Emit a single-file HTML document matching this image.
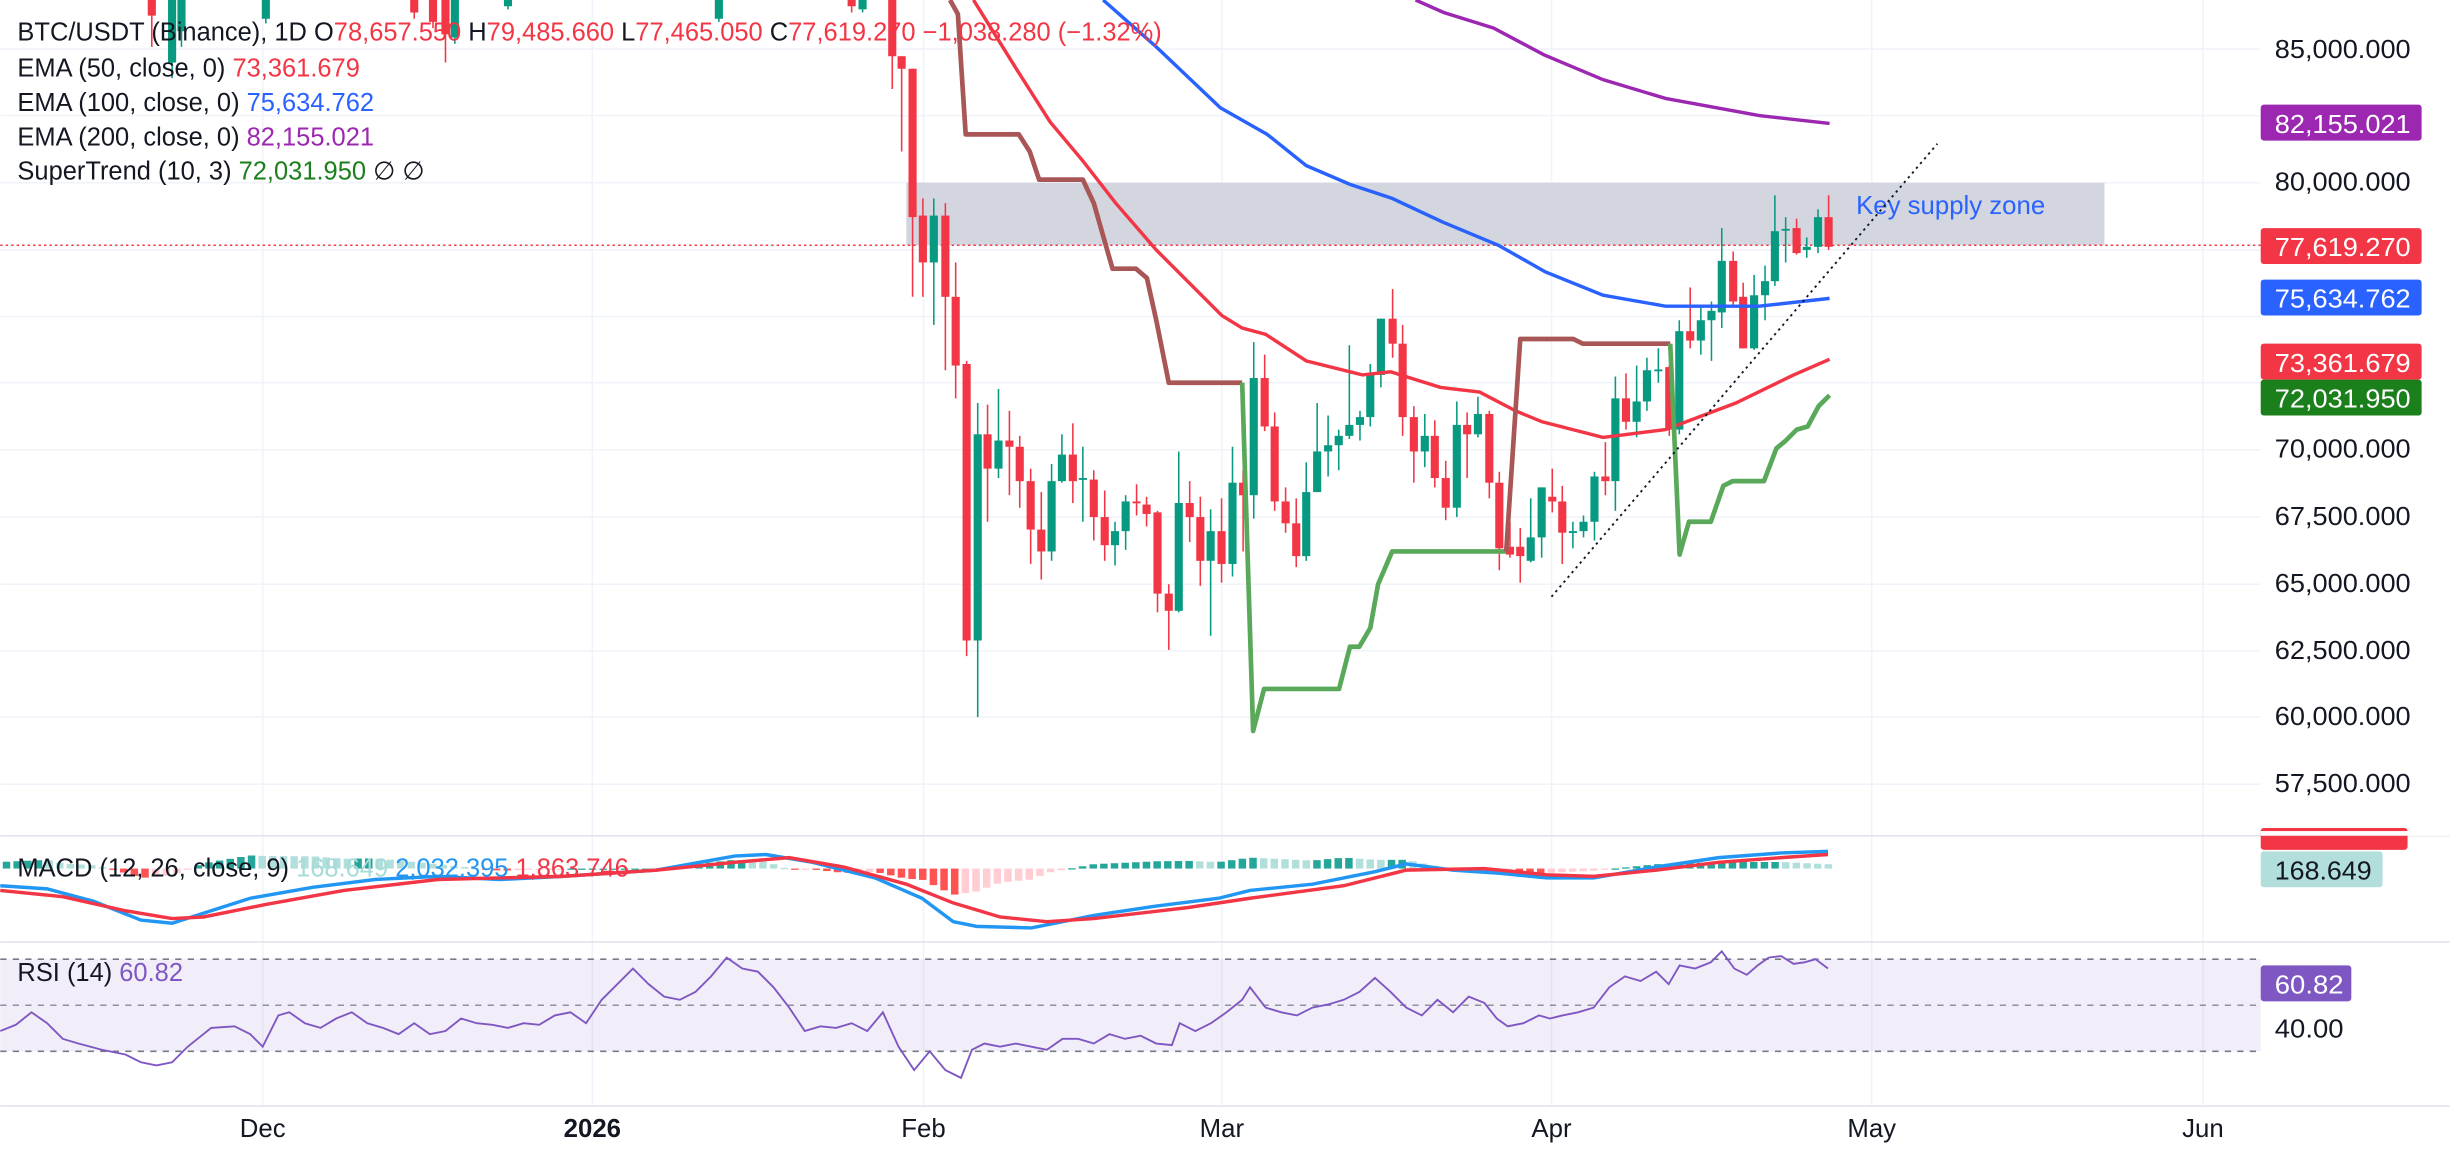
<!DOCTYPE html>
<html><head><meta charset="utf-8">
<style>
html,body{margin:0;padding:0;background:#fff;}
svg{display:block;}
text{font-family:"Liberation Sans",sans-serif;}
</style></head>
<body>
<svg id="s" width="2450" height="1156" viewBox="0 0 1568 740" xmlns="http://www.w3.org/2000/svg">
<rect width="1568" height="740" fill="#fff"/>
<g id="grid" stroke="#f0f3fa" stroke-width="1"></g>
<rect x="580" y="117" width="767" height="40" fill="#d1d4dc" opacity="0.95"/>
<text x="1188" y="137" font-size="16.5" fill="#2962ff">Key supply zone</text>
<line x1="0" y1="157" x2="1447" y2="157" stroke="#f23645" stroke-width="1" stroke-dasharray="1.5,2"/>
<g id="candles"></g>
<polyline fill="none" stroke="#9c27b0" stroke-width="2.2" points="906,0 924,8 956,18 988,35 1026,51 1066,63 1126,74 1171,79"/>
<polyline fill="none" stroke="#2962ff" stroke-width="2.2" points="706,0 740,30 781,69 811,86 836,106 864,118 891,127 923,142 959,157 989,174 1026,189 1066,196 1126,196 1171,191"/>
<polyline fill="none" stroke="#f23645" stroke-width="2.2" points="623,0 651,45 672,78 693,103 714,130 740,160 782,202 795,210 810,214 836,231 872,240 890,238 922,248 947,251 970,263 987,270 1026,280 1066,275 1111,258 1148,240 1171,230"/>
<polyline fill="none" stroke="#a85656" stroke-width="3" stroke-linejoin="round" points="608,0 613,9 618,86 652,86 659,97 665,115 693,115 700,130 712,172 727,172 734,178 740,205 748,245 795,245"/>
<polyline fill="none" stroke="#5aa85a" stroke-width="3" stroke-linejoin="round" points="795,245 802,468 809,441 857,441 864,414 870,414 877,402 882,374 891,353 964,353"/>
<polyline fill="none" stroke="#a85656" stroke-width="3" stroke-linejoin="round" points="964,353 973,217 1007,217 1013,220 1069,220"/>
<polyline fill="none" stroke="#5aa85a" stroke-width="3" stroke-linejoin="round" points="1069,220 1075,355 1081,334 1095,334 1103,311 1109,308 1129,308 1137,287 1143,282 1150,275 1157,273 1164,260 1171,253"/>
<line x1="993" y1="382" x2="1240" y2="92" stroke="#131722" stroke-width="1.2" stroke-dasharray="1.5,2.5"/>
<line x1="0" y1="535" x2="1568" y2="535" stroke="#e0e3eb"/>
<line x1="0" y1="603" x2="1568" y2="603" stroke="#e0e3eb"/>
<line x1="0" y1="708" x2="1568" y2="708" stroke="#e0e3eb"/>
<g id="hist"></g>
<polyline id="macd" fill="none" stroke="#2196f3" stroke-width="2.2"/>
<polyline id="sig" fill="none" stroke="#f23645" stroke-width="2.2"/>
<rect x="0" y="614" width="1447" height="59" fill="#7e57c2" opacity="0.1"/>
<line x1="0" y1="614" x2="1447" y2="614" stroke="#787b86" stroke-dasharray="4,4"/>
<line x1="0" y1="643.5" x2="1447" y2="643.5" stroke="#787b86" stroke-dasharray="4,4" opacity="0.8"/>
<line x1="0" y1="673" x2="1447" y2="673" stroke="#787b86" stroke-dasharray="4,4"/>
<polyline fill="none" stroke="#7e57c2" stroke-width="1.2" points="0,660 10,656 20,648 30,655 40,665 50,668 65,672 80,675 90,680 100,682 110,680 120,670 135,658 150,657 160,662 168,670 178,650 185,648 195,655 205,658 215,652 225,648 235,655 245,658 255,662 265,655 275,662 285,660 295,652 305,655 315,656 325,658 335,655 345,656 355,650 365,648 375,655 385,640 395,630 405,620 415,630 425,638 435,640 445,635 455,625 465,613 475,620 485,622 495,632 505,645 515,660 525,657 535,658 545,655 555,660 565,648 575,670 585,685 595,673 605,685 615,690 622,672 630,668 640,670 650,668 660,670 670,672 680,665 690,665 700,668 710,662 720,665 730,663 740,668 750,669 755,655 765,660 775,655 785,648 795,640 800,632 810,645 820,648 830,650 840,645 850,643 860,640 870,635 880,626 890,635 900,645 910,650 920,640 930,648 940,638 950,642 958,652 965,657 975,655 985,650 992,652 1000,650 1010,648 1020,645 1030,632 1040,625 1050,628 1060,622 1068,630 1075,618 1085,620 1095,616 1102,609 1110,620 1118,624 1125,618 1132,613 1140,612 1148,617 1155,616 1162,614 1170,620"/>
<g font-size="16.5" fill="#131722">
<text x="1456" y="37" textLength="87" lengthAdjust="spacingAndGlyphs">85,000.000</text>
<text x="1456" y="122" textLength="87" lengthAdjust="spacingAndGlyphs">80,000.000</text>
<text x="1456" y="293" textLength="87" lengthAdjust="spacingAndGlyphs">70,000.000</text>
<text x="1456" y="336" textLength="87" lengthAdjust="spacingAndGlyphs">67,500.000</text>
<text x="1456" y="379" textLength="87" lengthAdjust="spacingAndGlyphs">65,000.000</text>
<text x="1456" y="422" textLength="87" lengthAdjust="spacingAndGlyphs">62,500.000</text>
<text x="1456" y="464" textLength="87" lengthAdjust="spacingAndGlyphs">60,000.000</text>
<text x="1456" y="507" textLength="87" lengthAdjust="spacingAndGlyphs">57,500.000</text>
<text x="1456" y="664" textLength="44" lengthAdjust="spacingAndGlyphs">40.00</text>
</g>
<g font-size="16.5" fill="#fff">
<rect x="1447" y="67" width="103" height="23" rx="2" fill="#9c27b0"/><text x="1456" y="85" textLength="87" lengthAdjust="spacingAndGlyphs">82,155.021</text>
<rect x="1447" y="146" width="103" height="23" rx="2" fill="#f23645"/><text x="1456" y="164" textLength="87" lengthAdjust="spacingAndGlyphs">77,619.270</text>
<rect x="1447" y="179" width="103" height="23" rx="2" fill="#2962ff"/><text x="1456" y="197" textLength="87" lengthAdjust="spacingAndGlyphs">75,634.762</text>
<rect x="1447" y="220" width="103" height="23" rx="2" fill="#f23645"/><text x="1456" y="238" textLength="87" lengthAdjust="spacingAndGlyphs">73,361.679</text>
<rect x="1447" y="243" width="103" height="23" rx="2" fill="#1b7f1b"/><text x="1456" y="261" textLength="87" lengthAdjust="spacingAndGlyphs">72,031.950</text>
<rect x="1447" y="530" width="94" height="14" rx="2" fill="#f23645"/>
<rect x="1447" y="545" width="78" height="23" rx="2" fill="#b2dfdb"/><text x="1456" y="563" fill="#131722" textLength="62" lengthAdjust="spacingAndGlyphs">168.649</text>
<rect x="1447" y="618" width="58" height="23" rx="2" fill="#7e57c2"/><text x="1456" y="636" textLength="44" lengthAdjust="spacingAndGlyphs">60.82</text>
</g>
<rect x="1447" y="532" width="121" height="3" fill="#fff"/>
<g font-size="16.5" fill="#131722" text-anchor="middle">
<text x="168" y="728">Dec</text>
<text x="379" y="728" font-weight="bold">2026</text>
<text x="591" y="728">Feb</text>
<text x="782" y="728">Mar</text>
<text x="993" y="728">Apr</text>
<text x="1198" y="728">May</text>
<text x="1410" y="728">Jun</text>
</g>
<g font-size="16.3" fill="#131722">
<text x="11" y="26">BTC/USDT (Binance), 1D  O<tspan fill="#f23645">78,657.550</tspan> H<tspan fill="#f23645">79,485.660</tspan> L<tspan fill="#f23645">77,465.050</tspan> C<tspan fill="#f23645">77,619.270  −1,038.280 (−1.32%)</tspan></text>
<text x="11" y="49">EMA (50, close, 0)  <tspan fill="#f23645">73,361.679</tspan></text>
<text x="11" y="71">EMA (100, close, 0)  <tspan fill="#2962ff">75,634.762</tspan></text>
<text x="11" y="93">EMA (200, close, 0)  <tspan fill="#9c27b0">82,155.021</tspan></text>
<text x="11" y="115">SuperTrend (10, 3)  <tspan fill="#1b7f1b">72,031.950</tspan>  ∅  ∅</text>
<text x="11" y="561">MACD (12, 26, close, 9)  <tspan fill="#a6dcd7">168.649</tspan>  <tspan fill="#2196f3">2,032.395</tspan>  <tspan fill="#f23645">1,863.746</tspan></text>
<text x="11" y="628">RSI (14)  <tspan fill="#7e57c2">60.82</tspan></text>
</g>
</svg>
<script>
var NS="http://www.w3.org/2000/svg";
function el(p,t,a){var e=document.createElementNS(NS,t);for(var k in a)e.setAttribute(k,a[k]);p.appendChild(e);return e;}
var g=document.getElementById('grid');
[31.4,74,117,160,202.6,245,288,331,374,416.6,459,502].forEach(function(y){el(g,'line',{x1:0,x2:1447,y1:y,y2:y});});
[168,379,591,782,993,1198,1410].forEach(function(x){el(g,'line',{x1:x,x2:x,y1:0,y2:708});});
var C=[[97,-10,10,-10,30],[110,40,-10,-10,50],[116,20,-10,-10,30],[170,12,-10,-10,15],[265,-10,8,-10,12],[277,-10,14,-10,18],[285,-10,22,-10,40],[291,24,-10,-10,28],[325,4,-10,-10,6],[460,12,-10,-10,14],[545,-10,4,-10,8],[552,6,-10,-10,8],
[571,-10,36,-10,57],[577,36,44,36,97],[584,44,139,44,190],[590.6,138,168,127,190],[597.6,168,138,127,208],[605,138,190,130,237],[611.6,190,234,168,255],[618.6,233,410,231,420],[625.7,410,278,258,459],[632,278,300,259,334],[639,300,282,249,306],[646,282,286,263,317],[652.6,286,308,279,325],[659.6,308,339,300,361],[666.4,339,353,315,371],[673,353,308,297,359],[679.6,308,291,278,309],[686.6,291,308,271,322],[693,307,306,286,334],[700,307,331,301,346],[707,331,349,314,359],[713.6,349,340,334,362],[720.4,340,321,317,352],[727.4,321,322,310,330],[733.8,323,329,318,337],[740.8,328,380,327,392],[748,380,391,374,416],[754.4,391,322,289,392],[761.4,322,331,308,347],[768.2,331,359,318,375],[774.8,359,340,326,407],[781.8,340,361,319,373],[788.8,361,309,286,369],[795.6,309,317,301,353],[802.4,317,242,219,332],[809.4,242,273,227,276],[815.8,273,321,264,327],[822.8,321,335,312,341],[829.6,335,356,319,363],[836,356,315,296,359],[843,315,289,258,315],[850,289,285,266,305],[856.8,285,279,275,301],[863.6,279,272,221,281],[870.4,272,267,263,282],[877,267,240,233,273],[883.8,240,204,204,248],[891.3,204,220,185,229],[897.7,220,267,208,279],[904.9,267,289,260,309],[911.9,289,279,265,299],[918.3,279,306,269,312],[925.3,306,325,295,333],[932.4,325,272,257,331],[939,272,278,264,306],[945.9,278,265,254,280],[953.2,265,309,263,319],[959.6,309,351,302,365],[966.4,350,355,334,357],[973,350,356,338,373],[979.7,359,344,319,360],[986.7,344,312,312,357],[993.5,318,321,300,328],[999.9,321,341,311,361],[1006.7,341,340,334,351],[1013.5,340,334,330,344],[1020.5,334,305,302,346],[1027.5,305,308,283,317],[1033.9,308,255,241,327],[1040.7,255,270,239,275],[1047.5,270,257,234,280],[1054.1,257,237,229,263],[1061.4,237.5,236.5,223,245],[1068.4,235,275,234,279],[1074.8,275,212,205,278],[1081.8,212,218,184,223],[1088.6,218,205,195,227],[1095.4,205,199,193,231],[1102,200,167,146,210],[1109.3,167,193,161,195],[1115.7,190,223,181,223],[1122.7,223,189,176,224],[1129.7,189,180,170,205],[1136,180,148,125,183],[1142.9,147.5,146.5,139,168],[1149.9,146,162,140,163],[1156.4,160,158,152,165],[1163.6,158,139,134,162],[1170.4,139,158,125,160]];
var cg=document.getElementById('candles');
C.forEach(function(c){var col=c[2]<c[1]?'#089981':'#f23645';var t=Math.min(c[1],c[2]),b=Math.max(c[1],c[2]);
el(cg,'line',{x1:c[0],x2:c[0],y1:c[3],y2:c[4],stroke:col,'stroke-width':1});
el(cg,'rect',{x:c[0]-2.6,y:t,width:5.2,height:Math.max(b-t,1.2),fill:col});});
var M=[[0,567],[30,569],[60,577],[90,589],[110,591],[135,583],[160,575],[200,568],[240,563],[280,561],[320,563],[360,561],[420,557],[470,548],[490,547],[520,552],[560,562],[590,575],[610,590],[625,593],[660,594],[680,590],[700,586],[740,580],[780,575],[800,570],[840,566],[880,558],[900,553],[930,557],[960,559],[990,562],[1020,562],[1060,555],[1100,549],[1140,546],[1170,545]];
var S=[[0,570],[40,574],[80,583],[110,588],[130,587],[170,579],[220,570],[280,563],[360,561],[420,557],[470,552],[505,549],[540,555],[580,566],[610,578],[640,587],[670,590],[700,588],[760,581],[800,575],[860,567],[900,557],[950,556],[990,560],[1020,561],[1060,557],[1100,552],[1140,549],[1170,547]];
function pts(a){return a.map(function(p){return p.join(',')}).join(' ');}
document.getElementById('macd').setAttribute('points',pts(M));
document.getElementById('sig').setAttribute('points',pts(S));
function interp(a,x){for(var i=1;i<a.length;i++){if(x<=a[i][0]){var t=(x-a[i-1][0])/(a[i][0]-a[i-1][0]);return a[i-1][1]+t*(a[i][1]-a[i-1][1]);}}return a[a.length-1][1];}
var hg=document.getElementById('hist');var prev=0;
for(var x=4;x<=1171;x+=6.82){var h=(interp(S,x)-interp(M,x))*1.4;var col;
if(h>=0)col=h>=prev?'#26a69a':'#b2dfdb';else col=h<=prev?'#ff5252':'#ffcdd2';
var y=h>=0?556-h:556;el(hg,'rect',{x:x-2.4,y:y,width:4.8,height:Math.max(Math.abs(h),0.8),fill:col});prev=h;}
</script>
</body></html>
